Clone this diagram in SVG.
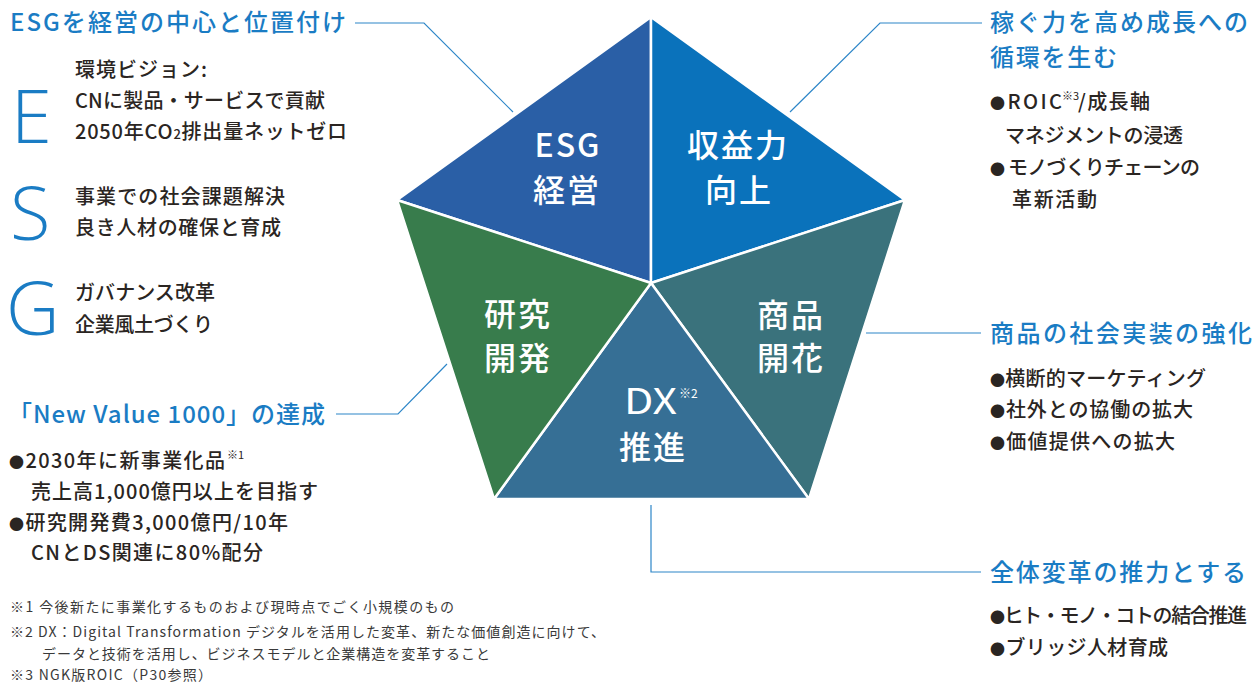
<svg xmlns="http://www.w3.org/2000/svg" width="1257" height="684" viewBox="0 0 1257 684">
<style>
text{font-family:'Noto Sans CJK JP','Noto Sans',sans-serif}
.t{fill:#1a7cc4;font-size:24px;font-weight:500}
.b{fill:#2a2522;font-size:20px;font-weight:500}
.d{font-size:15px}
.sup{fill:#2a2522;font-size:11px}
.f{fill:#3a3a3a;font-size:14px}
.w{fill:#ffffff;font-size:32px;text-anchor:middle;font-weight:500}
.big{fill:#1a7cc4;font-family:'Open Sans','Noto Sans',sans-serif;font-weight:300;font-size:74px}
.sl{stroke:#ffffff;stroke-width:2.5;stroke-linejoin:round}
.c{fill:none;stroke:#2d86c8;stroke-width:1.2}
</style>
<rect width="1257" height="684" fill="#ffffff"/>
<g id="connectors">
<polyline class="c" points="355,23 424,23 513,112"/>
<polyline class="c" points="982,23 880,23 790,112"/>
<polyline class="c" points="866,333 981,333"/>
<polyline class="c" points="651,505 651,572 981,572"/>
<polyline class="c" points="336,414 398,414 447,364"/>
</g>
<g id="node-esg">
<polygon class="sl" fill="#2a5fa6" points="651,283 651,17 397,200"/>
<text class="w" x="568" y="157" letter-spacing="2">ESG</text>
<text class="w" x="567" y="202" letter-spacing="2">経営</text>
</g>
<g id="node-profit">
<polygon class="sl" fill="#0a72bb" points="651,283 651,17 905,200"/>
<text class="w" x="738" y="157" letter-spacing="2">収益力</text>
<text class="w" x="739" y="202" letter-spacing="2">向上</text>
</g>
<g id="node-product">
<polygon class="sl" fill="#3a727c" points="651,283 905,200 809,499"/>
<text class="w" x="791" y="327" letter-spacing="2">商品</text>
<text class="w" x="791" y="370" letter-spacing="2">開花</text>
</g>
<g id="node-dx">
<polygon class="sl" fill="#366f95" points="651,283 809,499 494,499"/>
<text x="624" y="414" style="fill:#fff;font-size:36px" textLength="53" lengthAdjust="spacingAndGlyphs">DX</text>
<text x="679" y="398" style="fill:#fff;font-size:12px">※2</text>
<text class="w" x="653" y="459" letter-spacing="2">推進</text>
</g>
<g id="node-rd">
<polygon class="sl" fill="#387c4c" points="651,283 494,499 397,200"/>
<text class="w" x="518" y="326" letter-spacing="2">研究</text>
<text class="w" x="518" y="370" letter-spacing="2">開発</text>
</g>
<g id="block-esg">
<text class="t" x="10" y="31" textLength="336" lengthAdjust="spacing">ESGを経営の中心と位置付け</text>
<text class="big" x="11" y="143">E</text>
<text class="big" x="10" y="240">S</text>
<text class="big" x="6" y="335">G</text>
<text class="b" x="75" y="77" textLength="132" lengthAdjust="spacing">環境ビジョン:</text>
<text class="b" x="75" y="108" textLength="250" lengthAdjust="spacing">CNに製品・サービスで貢献</text>
<text class="b" x="75" y="139" textLength="272" lengthAdjust="spacing">2050年CO<tspan font-size="13">2</tspan>排出量ネットゼロ</text>
<text class="b" x="75" y="204" textLength="210" lengthAdjust="spacing">事業での社会課題解決</text>
<text class="b" x="75" y="235" textLength="206" lengthAdjust="spacing">良き人材の確保と育成</text>
<text class="b" x="75" y="300" textLength="140" lengthAdjust="spacing">ガバナンス改革</text>
<text class="b" x="75" y="332" textLength="138" lengthAdjust="spacing">企業風土づくり</text>
</g>
<g id="block-profit">
<text class="t" x="990" y="31" textLength="258" lengthAdjust="spacing">稼ぐ力を高め成長への</text>
<text class="t" x="990" y="66" textLength="127" lengthAdjust="spacing">循環を生む</text>
<text class="b" x="990" y="109" textLength="72" lengthAdjust="spacing"><tspan class="d">●</tspan>ROIC</text>
<text class="sup" x="1062" y="100">※3</text>
<text class="b" x="1078" y="109" textLength="72" lengthAdjust="spacing">/成長軸</text>
<text class="b" x="1005" y="143" textLength="178" lengthAdjust="spacing">マネジメントの浸透</text>
<text class="b" x="990" y="175" textLength="210" lengthAdjust="spacing"><tspan class="d">●</tspan> モノづくりチェーンの</text>
<text class="b" x="1012" y="207" textLength="85" lengthAdjust="spacing">革新活動</text>
</g>
<g id="block-product">
<text class="t" x="990" y="342" textLength="262" lengthAdjust="spacing">商品の社会実装の強化</text>
<text class="b" x="990" y="386" textLength="216" lengthAdjust="spacing"><tspan class="d">●</tspan>横断的マーケティング</text>
<text class="b" x="990" y="417" textLength="203" lengthAdjust="spacing"><tspan class="d">●</tspan>社外との協働の拡大</text>
<text class="b" x="990" y="449" textLength="185" lengthAdjust="spacing"><tspan class="d">●</tspan>価値提供への拡大</text>
</g>
<g id="block-dx">
<text class="t" x="990" y="581" textLength="256" lengthAdjust="spacing">全体変革の推力とする</text>
<text class="b" x="990" y="623" textLength="257" lengthAdjust="spacing"><tspan class="d">●</tspan>ヒト・モノ・コトの結合推進</text>
<text class="b" x="990" y="655" textLength="178" lengthAdjust="spacing"><tspan class="d">●</tspan>ブリッジ人材育成</text>
</g>
<g id="block-nv">
<text class="t" x="8" y="423" textLength="317" lengthAdjust="spacing">「New Value 1000」の達成</text>
<text class="b" x="9" y="468" textLength="216" lengthAdjust="spacing"><tspan class="d">●</tspan>2030年に新事業化品</text>
<text class="sup" x="227" y="459">※1</text>
<text class="b" x="31" y="499" textLength="287" lengthAdjust="spacing">売上高1,000億円以上を目指す</text>
<text class="b" x="9" y="530" textLength="279" lengthAdjust="spacing"><tspan class="d">●</tspan>研究開発費3,000億円/10年</text>
<text class="b" x="31" y="560" textLength="232" lengthAdjust="spacing">CNとDS関連に80%配分</text>
</g>
<g id="footnotes">
<text class="f" x="10" y="612" textLength="444" lengthAdjust="spacing">※1 今後新たに事業化するものおよび現時点でごく小規模のもの</text>
<text class="f" x="10" y="637" textLength="595" lengthAdjust="spacing">※2 DX：Digital Transformation デジタルを活用した変革、新たな価値創造に向けて、</text>
<text class="f" x="42" y="659" textLength="448" lengthAdjust="spacing">データと技術を活用し、ビジネスモデルと企業構造を変革すること</text>
<text class="f" x="10" y="680" textLength="202" lengthAdjust="spacing">※3 NGK版ROIC（P30参照）</text>
</g>
</svg>
